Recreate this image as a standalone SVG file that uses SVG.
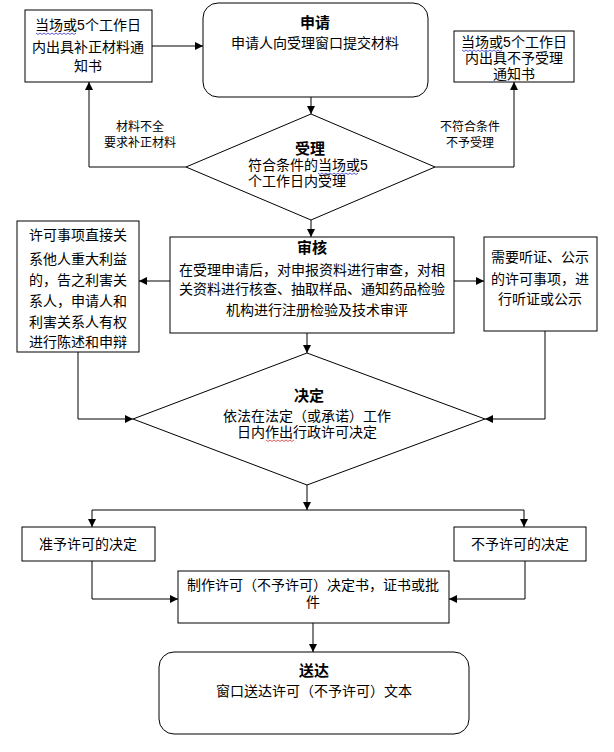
<svg xmlns="http://www.w3.org/2000/svg" width="614" height="752" viewBox="0 0 614 752">
<style>
text{font-family:"Liberation Sans","Noto Sans CJK SC",sans-serif;font-size:14px;fill:#000;text-anchor:middle}
.t{font-weight:bold;font-size:15px}
.s{font-size:12px}
.l{text-anchor:start}
.box{fill:#fff;stroke:#000;stroke-width:1}
.c{fill:none;stroke:#000;stroke-width:1}
.sq{fill:none;stroke-width:0.8}
</style>
<defs>
<marker id="ah" markerWidth="8" markerHeight="8" refX="8" refY="4" orient="auto" markerUnits="userSpaceOnUse">
<path d="M0,0 L8,4 L0,8 z" fill="#000"/>
</marker>
</defs>
<rect width="614" height="752" fill="#fff"/>
<g id="connectors">
<line class="c" x1="152" y1="46" x2="203" y2="46" marker-end="url(#ah)"/>
<line class="c" x1="311" y1="97" x2="311" y2="114" marker-end="url(#ah)"/>
<polyline class="c" points="186,167 89,167 89,82" marker-end="url(#ah)"/>
<polyline class="c" points="435,167 514,167 514,82" marker-end="url(#ah)"/>
<line class="c" x1="311" y1="220" x2="311" y2="237" marker-end="url(#ah)"/>
<line class="c" x1="170" y1="281" x2="139" y2="281" marker-end="url(#ah)"/>
<line class="c" x1="454" y1="281" x2="484" y2="281" marker-end="url(#ah)"/>
<line class="c" x1="307" y1="333" x2="307" y2="353" marker-end="url(#ah)"/>
<polyline class="c" points="78,352 78,419 133,419" marker-end="url(#ah)"/>
<polyline class="c" points="545,331 545,419 485,419" marker-end="url(#ah)"/>
<line class="c" x1="307" y1="485" x2="307" y2="510" marker-end="url(#ah)"/>
<line class="c" x1="92" y1="510" x2="524" y2="510"/>
<line class="c" x1="92" y1="510" x2="92" y2="527" marker-end="url(#ah)"/>
<line class="c" x1="524" y1="510" x2="524" y2="527" marker-end="url(#ah)"/>
<polyline class="c" points="92,561 92,599 178,599" marker-end="url(#ah)"/>
<polyline class="c" points="525,561 525,599 449,599" marker-end="url(#ah)"/>
<line class="c" x1="313" y1="623" x2="313" y2="652" marker-end="url(#ah)"/>
<text class="s" x="140" y="131">材料不全</text>
<text class="s" x="140" y="147">要求补正材料</text>
<text class="s" x="470" y="131">不符合条件</text>
<text class="s" x="470" y="147">不予受理</text>
</g>
<g id="notice-supplement">
<rect class="box" x="25" y="10" width="127" height="72"/>
<text x="88" y="30">当场或5个工作日</text>
<text x="88" y="52">内出具补正材料通</text>
<text x="88" y="71">知书</text>
<path class="sq" stroke="#33c" d="M36,33 l2,1.5 l2,-1.5 l2,1.5 l2,-1.5 l2,1.5 l2,-1.5 l2,1.5 l2,-1.5 l2,1.5 l2,-1.5 l2,1.5 l2,-1.5 l2,1.5 l2,-1.5 l2,1.5 l2,-1.5 l2,1.5 l2,-1.5 l2,1.5 l2,-1.5"/>
</g>
<g id="apply">
<rect class="box" x="203" y="3" width="225" height="94" rx="15" ry="15"/>
<text class="t" x="315" y="28">申请</text>
<text x="315" y="48">申请人向受理窗口提交材料</text>
</g>
<g id="notice-reject">
<rect class="box" x="454" y="31" width="120" height="51"/>
<text x="514" y="47">当场或5个工作日</text>
<text x="514" y="63">内出具不予受理</text>
<text x="514" y="79">通知书</text>
<path class="sq" stroke="#33c" d="M462,50 l2,1.5 l2,-1.5 l2,1.5 l2,-1.5 l2,1.5 l2,-1.5 l2,1.5 l2,-1.5 l2,1.5 l2,-1.5 l2,1.5 l2,-1.5 l2,1.5 l2,-1.5 l2,1.5 l2,-1.5 l2,1.5 l2,-1.5 l2,1.5 l2,-1.5"/>
</g>
<g id="accept">
<polygon class="box" points="311,114 435,167 311,220 186,167"/>
<text class="t" x="310" y="154">受理</text>
<text class="l" x="248" y="170">符合条件的当场或5</text>
<text class="l" x="248" y="186">个工作日内受理</text>
<path class="sq" stroke="#33c" d="M318,173 l2,1.5 l2,-1.5 l2,1.5 l2,-1.5 l2,1.5 l2,-1.5 l2,1.5 l2,-1.5 l2,1.5 l2,-1.5 l2,1.5 l2,-1.5 l2,1.5 l2,-1.5 l2,1.5 l2,-1.5 l2,1.5 l2,-1.5 l2,1.5 l2,-1.5"/>
</g>
<g id="review">
<rect class="box" x="170" y="237" width="284" height="96"/>
<text class="t" x="312" y="253">审核</text>
<text x="312" y="275">在受理申请后，对申报资料进行审查，对相</text>
<text x="312" y="294">关资料进行核查、抽取样品、通知药品检验</text>
<text x="317" y="315">机构进行注册检验及技术审评</text>
</g>
<g id="stakeholder">
<rect class="box" x="17" y="221" width="122" height="131"/>
<text x="78" y="240">许可事项直接关</text>
<text x="78" y="264">系他人重大利益</text>
<text x="78" y="285">的，告之利害关</text>
<text x="78" y="306">系人，申请人和</text>
<text x="78" y="327">利害关系人有权</text>
<text x="78" y="347">进行陈述和申辩</text>
</g>
<g id="hearing">
<rect class="box" x="484" y="237" width="113" height="94"/>
<text x="540" y="262">需要听证、公示</text>
<text x="540" y="284">的许可事项，进</text>
<text x="540" y="304">行听证或公示</text>
</g>
<g id="decide">
<polygon class="box" points="307,353 485,419 307,485 133,419"/>
<text class="t" x="309" y="401">决定</text>
<text x="307" y="421">依法在法定（或承诺）工作</text>
<text x="307" y="437">日内作出行政许可决定</text>
<path class="sq" stroke="#c33" d="M266,440 l2,1.5 l2,-1.5 l2,1.5 l2,-1.5 l2,1.5 l2,-1.5 l2,1.5 l2,-1.5 l2,1.5 l2,-1.5 l2,1.5 l2,-1.5 l2,1.5 l2,-1.5"/>
</g>
<g id="grant">
<rect class="box" x="22" y="527" width="133" height="34"/>
<text x="88" y="549">准予许可的决定</text>
</g>
<g id="deny">
<rect class="box" x="454" y="527" width="132" height="34"/>
<text x="520" y="549">不予许可的决定</text>
</g>
<g id="produce">
<rect class="box" x="178" y="571" width="271" height="52"/>
<text x="313" y="590">制作许可（不予许可）决定书，证书或批</text>
<text x="313" y="607">件</text>
</g>
<g id="deliver">
<rect class="box" x="159" y="652" width="310" height="82" rx="15" ry="15"/>
<text class="t" x="314" y="676">送达</text>
<text x="314" y="696">窗口送达许可（不予许可）文本</text>
</g>
</svg>
